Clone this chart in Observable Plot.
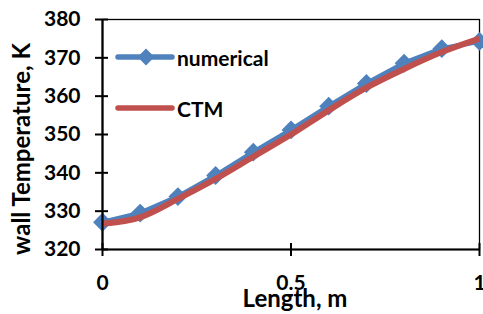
<!DOCTYPE html>
<html><head><meta charset="utf-8">
<script src="https://cdn.jsdelivr.net/npm/d3@7"></script>
<script src="https://cdn.jsdelivr.net/npm/@observablehq/plot@0.6"></script>
<style>body{margin:0;background:#fff} #chart{position:relative;width:483px;height:314px}</style>
</head><body><div id="chart"></div>
<script>
const lengths   = [0, 0.1, 0.2, 0.3, 0.4, 0.5, 0.6, 0.7, 0.8, 0.9, 1.0];
const numerical = [327.1, 329.5, 333.8, 339.3, 345.4, 351.2, 357.4, 363.3, 368.6, 372.4, 374.3];
const ctm       = [326.7, 328.4, 333.2, 338.4, 344.2, 350.0, 356.3, 362.2, 367.1, 371.5, 375.0];
const yTicks = [320, 330, 340, 350, 360, 370, 380];
const xTicks = [0, 0.5, 1];
const seriesNames = ["numerical", "CTM"];
const colors = ["#4F81BD", "#C0504D"];
const xTitle = "Length, m";
const yTitle = "wall Temperature, K";

const numData = lengths.map((x, i) => ({x, y: numerical[i]}));
const ctmData = lengths.map((x, i) => ({x, y: ctm[i]}));

const font = "Lato, 'Open Sans', sans-serif";
const plot = Plot.plot({
  width: 483, height: 314,
  marginLeft: 102, marginRight: 4, marginTop: 19, marginBottom: 65,
  style: {fontFamily: font, fontWeight: "bold", fontSize: "21px", color: "#000", background: "#fff", overflow: "visible"},
  x: {domain: [0, 1]},
  y: {domain: [320, 380]},
  marks: [
    Plot.frame({stroke: "#000", strokeWidth: 1.3}),
    Plot.lineY(numData, {x: "x", y: "y", stroke: colors[0], strokeWidth: 5, strokeLinecap: "round", strokeLinejoin: "round"}),
    Plot.dot(numData, {x: "x", y: "y", symbol: "diamond2", r: 8.5, fill: colors[0], stroke: null}),
    Plot.lineY(ctmData, {x: "x", y: "y", stroke: colors[1], strokeWidth: 6, curve: "catmull-rom", strokeLinecap: "butt"}),
    Plot.ruleX([0], {stroke: "#000", strokeWidth: 2.2}),
    Plot.ruleY([320], {stroke: "#000", strokeWidth: 2.2}),
    Plot.axisY(yTicks, {tickSize: 13, dx: 6, tickFormat: () => "", strokeWidth: 2, stroke: "#000", label: null}),
    Plot.axisY(yTicks, {tickSize: 0, tickPadding: 22, label: null, fontSize: 21, fontWeight: "bold", fill: "#000"}),
    Plot.axisX(xTicks, {tickSize: 13, dy: -6, tickFormat: () => "", strokeWidth: 2, stroke: "#000", label: null}),
    Plot.axisX(xTicks, {tickSize: 0, tickPadding: 26, label: null, fontSize: 21, fontWeight: "bold", fill: "#000", tickFormat: d => String(d)}),
    Plot.text([xTitle], {frameAnchor: "bottom", lineAnchor: "middle", textAnchor: "middle", dy: 50, dx: 4, fontSize: 24, fontWeight: "bold", fill: "#000"}),
    Plot.text([yTitle], {frameAnchor: "left", lineAnchor: "middle", textAnchor: "middle", rotate: -90, dx: -80, dy: 14.5, fontSize: 24, fontWeight: "bold", fill: "#000"})
  ]
});
document.getElementById("chart").appendChild(plot);

// legend inside plot area
const svg = d3.select(plot);
const leg = svg.append("g").attr("font-family", font).attr("font-weight", "bold").attr("font-size", 21).attr("text-anchor", "start");
const legY = [57, 108];
seriesNames.forEach((name, i) => {
  leg.append("line").attr("x1", 118).attr("x2", 172).attr("y1", legY[i]).attr("y2", legY[i])
    .attr("stroke", colors[i]).attr("stroke-width", 5.5).attr("stroke-linecap", "round");
  if (i === 0) {
    leg.append("path").attr("d", d3.symbol(d3.symbolDiamond2, 180)()).attr("transform", `translate(146,${legY[i]})`).attr("fill", colors[i]);
  }
  leg.append("text").attr("x", 177).attr("y", legY[i] + 8.5).attr("fill", "#000").text(name);
});
</script>
</body></html>
